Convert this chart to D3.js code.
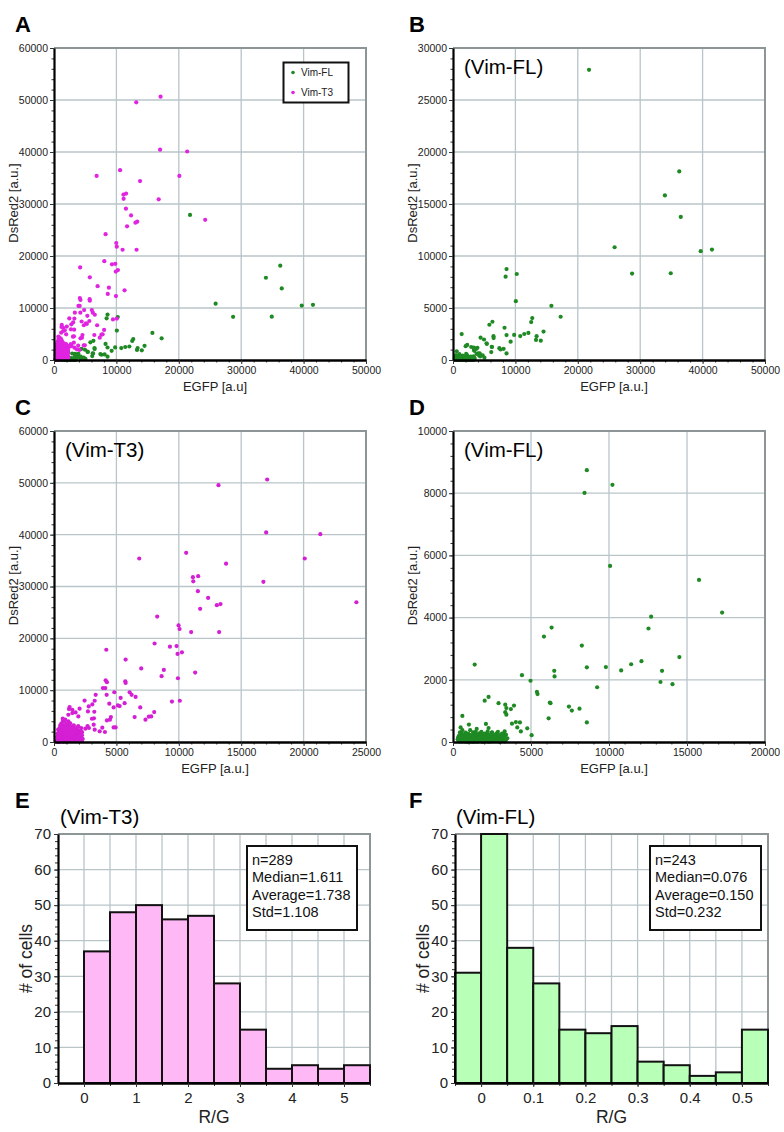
<!DOCTYPE html>
<html>
<head>
<meta charset="utf-8">
<script src="https://cdn.jsdelivr.net/npm/d3@7"></script>
<style>
  body { margin: 0; background: #fff; }
  text { font-family: 'Liberation Sans', Arial, sans-serif; }
</style>
</head>
<body>
<script>
// Vim-FL cells: [EGFP, DsRed2]
var flPoints = [
  [21800,27900],[25900,10840],[28700,8310],[33960,15820],[36260,18130],[36500,13760],[34900,8340],[39700,10460],[41500,10620],
  [8580,8740],[8430,8010],[10220,8270],[10070,5660],[15770,5210],[17250,4160],[12700,4030],[12530,3650],[6320,3680],[5830,3390],
  [8260,3100],[14510,2730],[11420,2500],[12080,2600],[10780,2300],[9800,2410],[8580,2400],[13400,2290],[13300,1930],[14070,1860],
  [9240,1760],[6490,2290],[6510,2110],[1390,2490],[4420,2150],[4970,1970],[5380,1610],[5420,1540],[6210,1270],[6250,1250],
  [6130,760],[7430,1140],[7620,1010],[8110,1070],[8580,630],[2030,1330],[2280,1450],[2920,1250],[3350,1200],[3420,1090],
  [3350,960],[3420,880],[3710,1060],[3910,1170],[3780,590],[4030,640],[4290,630],[4120,470],[4350,340],[4760,440],
  [5040,220],[600,840],[490,470],[1020,560],[1520,420],[2110,580],[2280,450],[2500,310],[2880,330],[3140,270],[3310,340],
  [350,40],[420,120],[480,60],[520,180],[560,20],[610,90],[640,150],[700,40],[720,230],[760,110],[800,60],[830,190],
  [870,20],[900,130],[940,80],[980,260],[1010,40],[1050,170],[1080,100],[1120,30],[1150,210],[1190,70],[1220,140],[1260,20],
  [1290,310],[1330,90],[1360,180],[1400,50],[1440,120],[1470,240],[1510,30],[1550,160],[1580,80],[1620,200],[1660,40],
  [1700,130],[1730,280],[1770,60],[1810,170],[1850,20],[1890,110],[1920,230],[1960,70],[2000,150],[2040,30],[2080,200],
  [2120,90],[2160,260],[2200,40],[2240,130],[2290,180],[2330,60],[2380,110],[2420,20],[2470,210],[2520,80],[2570,150],
  [2620,30],[2680,120],[2740,250],[2800,60],[2860,180],[2920,20],[2990,100],[3060,150],[3130,40],[3200,90],[3290,180],
  [3380,60],[3480,120],[380,200],[450,310],[530,90],[600,380],[680,130],[750,20],[820,300],[890,60],[960,180],[1030,110],
  [1100,380],[1170,150],[1240,60],[1310,230],[1380,10],[1450,330],[1520,100],[1590,50],[1660,270],[1740,140],[1820,330],
  [1900,10],[1980,250],[2060,120],[2140,30],[2220,340],[2310,100],[2400,190],[2500,300],[2600,110],[2700,30],[2820,290],
  [2950,220],[3080,60],[3250,260],[3400,230],[300,90],[330,150],[400,20],[460,240],[500,130],[580,270],[650,40],[730,170],
  [790,100],[850,240],[920,10],[1000,120],[1070,230],[1140,90],[1210,10],[1280,150],[1350,270],[1420,200],[1490,80],
  [1570,10],[1640,110],[1720,50],[1790,220],[1870,160],[1950,30],[2030,270],[2110,170],[2190,110],[2270,10],[2350,240],
  [2440,150],[2550,50],[2650,200],[2760,140],[2880,70],[3020,10],[3160,210],[3320,20]
];

// Vim-T3 cells: [EGFP, DsRed2]
var t3Points = [
  [17080,50640],[13180,49550],[17000,40440],[21340,40100],[10590,36500],[6830,35400],[20090,35400],[13790,34400],[11550,32000],
  [11130,31800],[11160,31000],[16780,30900],[11530,29100],[12350,27800],[24230,26960],[13340,26600],[13050,26400],[11710,25700],
  [8270,24200],[9980,22500],[10060,21800],[10990,21200],[13230,21200],[8060,19000],[9290,18400],[9820,18500],[10250,17300],
  [9900,17000],[4190,17800],[5740,15900],[6990,14200],[8800,13900],[8620,12700],[9930,12300],[11310,13400],[4140,11900],
  [4240,11550],[5710,11700],[5740,11400],[3920,10400],[4110,10400],[3340,9100],[4220,9100],[4830,9600],[6060,9600],[6220,9100],
  [6540,8700],[5340,8500],[5660,7500],[9450,7800],[10080,7960],[4430,7400],[5120,7060],[5260,6930],[4780,6680],[6910,6680],
  [8030,5780],[7790,4940],[7600,4880],[7330,4300],[6460,4810],[4560,4810],[4480,4300],[4240,4170],[3870,2760],[4080,1930],
  [4780,2820],[4940,2820],[3660,2050],[3260,2370],[3180,3340],[3040,4490],[3200,4560],[3230,5840],[3070,7250],[3260,7960],
  [2450,8000],[2780,6870],[2720,5900],[2690,3080],[2800,2700],[2510,2570],[2190,710],[2240,1860],[1790,2700],[1950,3000],
  [1470,5580],[1200,6350],[1250,6740],[1470,6200],[2050,6420],[1730,5700],[1950,4940],[1150,5260],[720,4100],[990,3470],
  [600,3600],[800,3900],[900,4300],[1050,3400],[1300,3600],[700,4500],[500,3200],[1150,4000],
  [200,100],[250,400],[300,800],[320,200],[350,1200],[380,50],[400,600],[420,1500],[440,300],[460,900],[480,1900],[500,100],
  [520,1300],[540,500],[560,2200],[580,800],[600,200],[620,1600],[640,1000],[660,400],[680,2500],[700,1200],[720,700],[740,50],
  [760,1800],[780,300],[800,1400],[820,900],[840,2100],[860,500],[880,1100],[900,150],[920,1700],[940,2800],[960,700],[980,1300],
  [1000,350],[1020,2000],[1040,900],[1060,1500],[1080,100],[1100,2400],[1120,600],[1140,1200],[1160,1900],[1180,300],[1200,1000],
  [1230,2600],[1260,800],[1290,1500],[1320,400],[1350,2100],[1380,1200],[1410,700],[1440,1700],[1470,2900],[1500,500],[1530,1300],
  [1560,2300],[1600,900],[1640,1600],[1680,300],[1720,2000],[1760,1100],[1800,2600],[1850,700],[1900,1500],[1950,2200],[2000,400],
  [2060,1800],[2120,1000],[2180,2700],[2240,1300],[2300,600],[260,1000],[280,1600],[330,2400],[360,600],[390,2000],[410,1000],
  [430,200],[450,2700],[470,1400],[490,700],[510,2100],[530,350],[550,1700],[570,1100],[590,2700],[610,500],[630,1900],[650,1350],
  [670,750],[690,1750],[710,150],[730,2300],[750,1000],[770,3100],[790,600],[810,1950],[830,250],[850,1550],[870,2600],[890,800],
  [910,1250],[930,450],[950,2200],[970,1600],[990,100],[1010,3300],[1030,1100],[1050,2500],[1070,650],[1090,1750],[1110,200],
  [1130,2900],[1150,1400],[1170,800],[1190,2300],[1210,500],[1240,1800],[1270,3000],[1300,1100],[1330,1900],[1360,600],[1390,2500],
  [1420,1400],[1450,900],[1480,2000],[1510,200],[1550,1000],[1590,3200],[1630,1200],[1670,2400],[1710,700],[1750,1500],[1790,400],
  [1840,1900],[1890,1100],[1940,3000],[1990,1600],[2050,800],[2110,2200],[2170,1600],[2230,200],[340,30],[370,900],[440,1700],
  [510,2500],[570,300],[640,2900],[700,800],[780,2300],[850,1800],[920,600],[1000,2600],[1080,1600],[1160,400],[1250,2200],
  [1340,1600],[1430,300],[1530,2600],[1620,2000],[1730,1000],[1830,300],[1960,1200],[2090,1400],[2200,2000]
];

// histograms of R/G
var t3BinStarts = [0, 0.5, 1, 1.5, 2, 2.5, 3, 3.5, 4, 4.5, 5];
var t3Counts    = [37, 48, 50, 46, 47, 28, 15, 4, 5, 4, 5];
var flBinStarts = [-0.05, 0, 0.05, 0.1, 0.15, 0.2, 0.25, 0.3, 0.35, 0.4, 0.45, 0.5];
var flCounts    = [31, 70, 38, 28, 15, 14, 16, 6, 5, 2, 3, 15];
var t3Stats = ["n=289", "Median=1.611", "Average=1.738", "Std=1.108"];
var flStats = ["n=243", "Median=0.076", "Average=0.150", "Std=0.232"];

var GREEN = "#1f8a24", MAGENTA = "#e024e0";
var GRID = "#b9c5c9", FRAME = "#8e9596";

var svg = d3.select("body").append("svg")
    .attr("width", 784).attr("height", 1132);

function range(a, b, step) {
  var out = [];
  for (var v = a; v <= b + step * 1e-6; v += step) out.push(+v.toFixed(6));
  return out;
}

// common frame: grid, border, axes
function frame(g, x, y, o) {
  var w = x.range()[1], h = y.range()[0];
  g.selectAll(".vg").data(o.xGrid).enter().append("line")
    .attr("x1", d => x(d)).attr("x2", d => x(d)).attr("y1", 0).attr("y2", h)
    .attr("stroke", GRID).attr("stroke-width", 1.3);
  g.selectAll(".hg").data(o.yGrid).enter().append("line")
    .attr("x1", 0).attr("x2", w).attr("y1", d => y(d)).attr("y2", d => y(d))
    .attr("stroke", GRID).attr("stroke-width", 1.3);
  g.append("path").attr("d", "M0,0H" + w + "V" + h)
    .attr("fill", "none").attr("stroke", FRAME).attr("stroke-width", 2);
}

function axes(g, x, y, o) {
  var h = y.range()[0];
  // minor ticks
  g.append("g").attr("transform", "translate(0," + h + ")")
    .call(d3.axisBottom(x).tickValues(o.xMinor).tickSize(o.minorSize).tickFormat(""))
    .call(s => s.select(".domain").remove());
  g.append("g")
    .call(d3.axisLeft(y).tickValues(o.yMinor).tickSize(o.minorSize).tickFormat(""))
    .call(s => s.select(".domain").remove());
  var xa = g.append("g").attr("transform", "translate(0," + h + ")")
    .call(d3.axisBottom(x).tickValues(o.xTicks).tickSize(o.tickSize).tickSizeOuter(0)
      .tickPadding(o.xPad).tickFormat(o.xFormat));
  var ya = g.append("g")
    .call(d3.axisLeft(y).tickValues(o.yTicks).tickSize(o.tickSize).tickSizeOuter(0)
      .tickPadding(o.yPad).tickFormat(d3.format("d")));
  [xa, ya].forEach(function(a) {
    a.selectAll("text").attr("font-size", o.fontSize).attr("fill", "#222")
      .style("font-family", "'Liberation Sans', Arial, sans-serif");
  });
  xa.select(".domain").attr("stroke", "#000").attr("stroke-width", 2.6);
  ya.select(".domain").attr("stroke", "#000").attr("stroke-width", 2.2);
  g.selectAll(".tick line").attr("stroke", "#333");
}

function panelLetter(t, px, py) {
  svg.append("text").attr("x", px).attr("y", py).text(t)
    .attr("font-size", 22).attr("font-weight", "bold");
}

function scatterPanel(o) {
  var w = o.x1 - o.x0, h = o.y1 - o.y0;
  var g = svg.append("g").attr("transform", "translate(" + o.x0 + "," + o.y0 + ")");
  var x = d3.scaleLinear().domain([0, o.xMax]).range([0, w]);
  var y = d3.scaleLinear().domain([0, o.yMax]).range([h, 0]);
  frame(g, x, y, { xGrid: range(o.xStep, o.xMax, o.xStep), yGrid: range(o.yStep, o.yMax, o.yStep) });

  o.series.forEach(function(s) {
    g.append("g").selectAll("circle").data(s.pts.filter(p => p[0] <= o.xMax && p[1] <= o.yMax))
      .enter().append("circle")
      .attr("cx", d => x(d[0])).attr("cy", d => y(d[1])).attr("r", 2.1)
      .attr("fill", s.color);
  });

  axes(g, x, y, {
    xTicks: range(0, o.xMax, o.xStep), yTicks: range(0, o.yMax, o.yStep),
    xMinor: range(0, o.xMax, o.xStep / 5), yMinor: range(0, o.yMax, o.yStep / 5),
    tickSize: 4, minorSize: 2.5, xPad: 3, yPad: 2, fontSize: 10.5, xFormat: d3.format("d")
  });

  svg.append("text").attr("x", (o.x0 + o.x1) / 2 + 5).attr("y", o.y1 + 31)
    .attr("text-anchor", "middle").attr("font-size", 13).attr("fill", "#222").text(o.xLabel);
  svg.append("text").attr("transform", "translate(" + (o.x0 - 36) + "," + ((o.y0 + o.y1) / 2 - 1) + ") rotate(-90)")
    .attr("text-anchor", "middle").attr("font-size", 13).attr("fill", "#222").text("DsRed2 [a.u.]");
  if (o.tag) {
    svg.append("text").attr("x", o.x0 + 11).attr("y", o.y0 + 26).attr("font-size", 20.5).text(o.tag);
  }
  return g;
}

function histPanel(o) {
  var w = o.x1 - o.x0, h = o.y1 - o.y0;
  var g = svg.append("g").attr("transform", "translate(" + o.x0 + "," + o.y0 + ")");
  var x = d3.scaleLinear().domain(o.xDomain).range([0, w]);
  var y = d3.scaleLinear().domain([0, 70]).range([h, 0]);
  frame(g, x, y, { xGrid: range(o.xDomain[0] + o.bw, o.xDomain[1] - o.bw / 2, o.bw), yGrid: range(10, 70, 10) });

  g.selectAll(".bar").data(o.starts).enter().append("rect")
    .attr("x", d => x(d)).attr("width", d => x(d + o.bw) - x(d))
    .attr("y", (d, i) => y(o.counts[i])).attr("height", (d, i) => h - y(o.counts[i]))
    .attr("fill", o.fill).attr("stroke", "#111").attr("stroke-width", 2);

  axes(g, x, y, {
    xTicks: o.labels, yTicks: range(0, 70, 10),
    xMinor: range(o.xDomain[0], o.xDomain[1], o.bw), yMinor: range(0, 70, 2),
    tickSize: 4, minorSize: 3, xPad: 5, yPad: 3, fontSize: 15, xFormat: o.fmt
  });

  svg.append("text").attr("x", (o.x0 + o.x1) / 2).attr("y", o.y1 + 40)
    .attr("text-anchor", "middle").attr("font-size", 17.5).attr("fill", "#222").text("R/G");
  svg.append("text").attr("transform", "translate(" + (o.x0 - 26) + "," + ((o.y0 + o.y1) / 2) + ") rotate(-90)")
    .attr("text-anchor", "middle").attr("font-size", 17.5).attr("fill", "#222").text("# of cells");
  svg.append("text").attr("x", o.x0 + o.tagDx).attr("y", o.y0 - 10).attr("font-size", 20.5).text(o.tag);

  var b = o.box;
  svg.append("rect").attr("x", b[0]).attr("y", b[1]).attr("width", b[2]).attr("height", b[3])
    .attr("fill", "#fff").attr("stroke", "#111").attr("stroke-width", 2);
  svg.append("g").selectAll("text").data(o.stats).enter().append("text")
    .attr("x", b[0] + 5).attr("y", (d, i) => b[1] + 18.5 + i * 17.6)
    .attr("font-size", 14.5).attr("fill", "#111").text(d => d);
}

// A
panelLetter("A", 15, 32);
scatterPanel({ x0: 54, x1: 366, y0: 48, y1: 360, xMax: 50000, yMax: 60000, xStep: 10000, yStep: 10000,
  xLabel: "EGFP [a.u]",
  series: [{ pts: flPoints, color: GREEN }, { pts: t3Points, color: MAGENTA }] });
// legend
svg.append("rect").attr("x", 283.5).attr("y", 62.5).attr("width", 65).attr("height", 40)
  .attr("fill", "#fff").attr("stroke", "#111").attr("stroke-width", 2);
[["Vim-FL", GREEN], ["Vim-T3", MAGENTA]].forEach(function(d, i) {
  svg.append("circle").attr("cx", 293).attr("cy", 72.5 + i * 20).attr("r", 1.8).attr("fill", d[1]);
  svg.append("text").attr("x", 301).attr("y", 76 + i * 20).attr("font-size", 10).attr("fill", "#222").text(d[0]);
});

// B
panelLetter("B", 409, 32);
scatterPanel({ x0: 453, x1: 765, y0: 48, y1: 360, xMax: 50000, yMax: 30000, xStep: 10000, yStep: 5000,
  xLabel: "EGFP [a.u.]", tag: "(Vim-FL)", series: [{ pts: flPoints, color: GREEN }] });

// C
panelLetter("C", 15, 415);
scatterPanel({ x0: 54, x1: 366, y0: 431, y1: 742, xMax: 25000, yMax: 60000, xStep: 5000, yStep: 10000,
  xLabel: "EGFP [a.u.]", tag: "(Vim-T3)", series: [{ pts: t3Points, color: "#d41fd4" }] });

// D
panelLetter("D", 409, 415);
scatterPanel({ x0: 453, x1: 765, y0: 431, y1: 742, xMax: 20000, yMax: 10000, xStep: 5000, yStep: 2000,
  xLabel: "EGFP [a.u.]", tag: "(Vim-FL)", series: [{ pts: flPoints, color: GREEN }] });

// E
panelLetter("E", 15, 808);
histPanel({ x0: 58, x1: 370, y0: 834, y1: 1083, xDomain: [-0.5, 5.5], bw: 0.5,
  starts: t3BinStarts, counts: t3Counts, fill: "#ffb8f6", labels: [0, 1, 2, 3, 4, 5],
  fmt: d3.format("d"), tag: "(Vim-T3)", tagDx: 2, stats: t3Stats, box: [247, 846, 110, 84] });

// F
panelLetter("F", 409, 808);
histPanel({ x0: 455, x1: 768, y0: 834, y1: 1083, xDomain: [-0.05, 0.55], bw: 0.05,
  starts: flBinStarts, counts: flCounts, fill: "#b8ffb8", labels: [0, 0.1, 0.2, 0.3, 0.4, 0.5],
  fmt: d => d === 0 ? "0" : d3.format(".1f")(d), tag: "(Vim-FL)", tagDx: 1, stats: flStats,
  box: [650, 846, 111, 84] });
</script>
</body>
</html>
